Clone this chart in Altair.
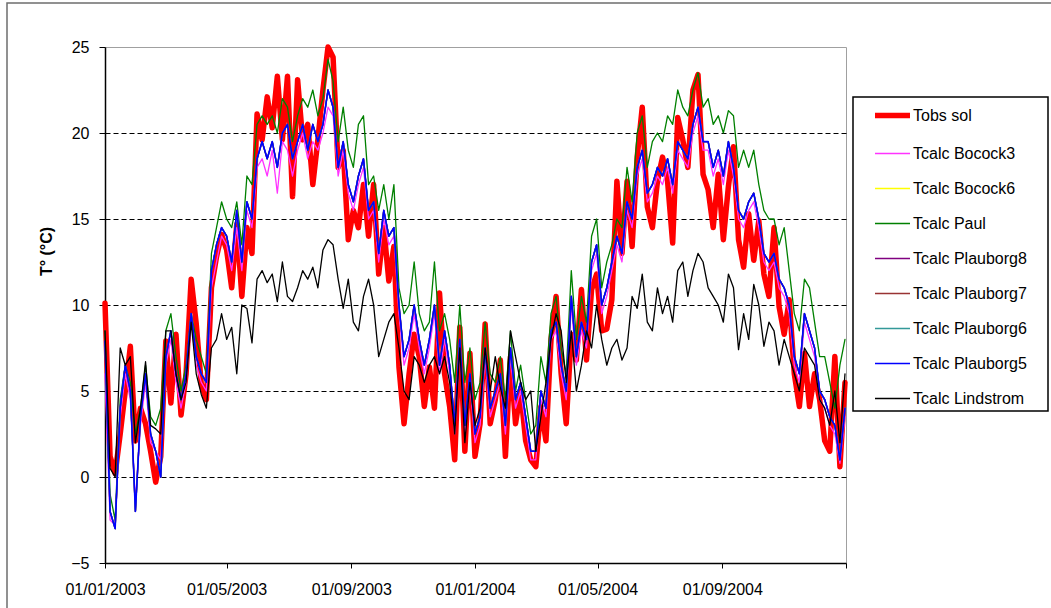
import altair as alt
import pandas as pd

series_names = ["Tobs sol", "Tcalc Bocock3", "Tcalc Bocock6", "Tcalc Paul",
                "Tcalc Plauborg8", "Tcalc Plauborg7", "Tcalc Plauborg6",
                "Tcalc Plauborg5", "Tcalc Lindstrom"]
series_colors = ["#ff0000", "#ff33ff", "#ffff00", "#008000",
                 "#800080", "#993333", "#339999", "#0000ff", "#000000"]
series_widths = [5.5, 1.3, 1.3, 1.3, 1.3, 1.3, 1.3, 1.6, 1.3]

# 5-day samples from 01/01/2003 to 31/12/2004
tobs_sol = [
    10.1, 1.2, 0.2, 2.5, 5.0, 7.6, 2.1, 4.0, 3.1, 1.5,
    -0.3, 1.2, 7.9, 4.3, 8.3, 3.6, 6.0, 11.5, 8.9, 5.4,
    4.5, 11.0, 12.8, 14.1, 13.2, 11.0, 14.7, 10.5, 14.5, 13.0,
    21.1, 19.6, 22.1, 20.3, 23.3, 19.6, 23.3, 16.3, 23.1, 19.6,
    20.5, 17.0, 19.6, 22.5, 25.0, 24.4, 18.0, 19.0, 13.8, 15.5,
    14.5, 17.0, 14.0, 17.0, 11.8, 14.5, 11.4, 13.4, 6.4, 3.1,
    6.0, 8.3, 7.0, 4.1, 6.4, 4.0, 10.7, 6.0, 4.1, 1.0,
    8.7, 1.5, 7.2, 1.2, 3.1, 8.9, 3.1, 4.5, 6.8, 1.2,
    7.0, 3.1, 5.0, 2.1, 1.0, 0.6, 4.1, 2.1, 8.0, 10.5,
    6.0, 3.1, 8.3, 6.8, 10.9, 6.8, 10.9, 11.8, 8.5, 8.6,
    10.3, 17.2, 13.0, 17.2, 13.4, 18.6, 21.5, 15.7, 14.5, 17.2,
    18.6, 17.2, 13.6, 20.9, 19.6, 18.0, 22.5, 23.4, 17.6, 16.7,
    14.5, 17.6, 13.8, 16.9, 19.2, 13.8, 12.2, 15.3, 12.6, 14.9,
    11.8, 10.5, 14.5, 9.9, 8.3, 10.3, 6.0, 4.1, 7.2, 4.1,
    6.0, 4.5, 2.1, 1.5, 7.0, 0.6, 5.5,
]

tcalc_bocock3 = [
    6.0, -2.5, -2.8, 3.5, 6.0, 4.5, -1.5, 3.0, 5.5, 2.0,
    1.5, 1.0, 6.5, 8.0, 5.5, 4.0, 5.5, 9.0, 6.5, 5.5,
    5.0, 11.0, 12.5, 14.0, 13.5, 12.0, 14.5, 12.0, 15.5, 14.5,
    18.0, 18.5, 17.5, 19.0, 16.5, 19.5, 19.0, 17.5, 19.0, 20.0,
    18.5, 19.5, 19.0, 20.0, 21.5, 21.0, 17.5, 19.0, 16.5, 15.5,
    17.0, 18.0, 15.0, 15.5, 12.5, 15.0, 13.5, 14.0, 9.5, 6.5,
    7.5, 9.5, 7.5, 6.0, 7.5, 9.5, 6.0, 8.0, 6.0, 2.5,
    7.5, 2.5, 5.5, 2.0, 3.0, 7.0, 3.5, 4.5, 5.5, 2.5,
    7.0, 4.0, 5.0, 3.0, 1.0, 1.0, 4.5, 3.5, 8.0, 8.5,
    6.0, 4.5, 10.0, 6.5, 8.5, 7.5, 12.0, 13.0, 9.5, 10.5,
    12.0, 13.5, 12.5, 15.5, 14.5, 17.5, 18.5, 16.0, 16.5, 17.5,
    17.0, 18.0, 16.5, 19.0, 18.5, 18.0, 20.0, 21.0, 19.0, 19.0,
    17.5, 18.5, 17.0, 19.0, 17.5, 15.0, 14.5, 15.5, 16.0, 14.5,
    12.5, 12.0, 12.5, 11.0, 10.5, 9.5, 6.5, 5.5, 9.0, 8.0,
    7.0, 4.5, 4.0, 3.0, 2.5, 0.8, 3.5,
]

tcalc_paul = [
    8.5, -1.0, -2.5, 4.5, 6.5, 5.5, 2.5, 4.0, 6.5, 3.5,
    3.0, 4.0, 8.5, 9.5, 7.0, 5.0, 6.5, 9.5, 8.0, 7.0,
    6.0, 13.0, 14.5, 16.0, 15.0, 14.5, 16.0, 13.5, 17.5, 17.0,
    20.5, 21.0, 20.5, 21.0, 20.0, 22.0, 21.5, 19.5, 21.0, 22.0,
    21.5, 22.5, 21.0, 22.0, 24.3, 23.0, 19.5, 21.5, 19.0, 18.0,
    20.5, 21.0, 17.0, 17.5, 15.5, 17.0, 15.0, 17.0, 11.0, 9.5,
    10.0, 12.5, 9.5, 8.5, 9.0, 12.5, 8.5, 9.5, 8.0, 5.5,
    10.0, 5.5, 7.5, 4.5, 5.5, 9.0, 6.0, 5.5, 7.0, 4.5,
    8.5, 5.0, 6.5, 4.5, 2.5, 3.0, 7.0, 5.5, 9.5, 10.5,
    7.5, 6.0, 12.0, 8.0, 10.5, 9.0, 14.0, 15.0, 11.0, 12.5,
    13.5, 15.0, 14.5, 18.0, 16.0, 20.0, 21.0, 18.0, 19.5, 20.0,
    19.5, 21.0, 20.5, 22.5, 21.5, 21.0, 22.5, 23.5, 21.5, 22.0,
    20.5, 21.0, 20.0, 21.3, 21.0, 18.0, 19.0, 18.0, 19.0, 17.0,
    15.5, 15.0, 15.0, 13.5, 14.5, 12.0, 9.5, 8.5, 11.5, 11.0,
    9.0, 7.0, 7.0, 5.5, 4.0, 6.5, 8.0,
]

tcalc_plauborg5 = [
    7.9, -2.0, -3.0, 4.0, 6.5, 5.0, -2.0, 3.5, 6.0, 2.5,
    1.5, 0.0, 7.0, 8.5, 6.0, 4.5, 6.0, 9.5, 7.0, 6.0,
    5.5, 12.0, 13.5, 14.5, 14.0, 12.5, 15.5, 12.5, 16.0, 15.0,
    18.5, 19.5, 18.5, 19.5, 18.0, 20.0, 20.5, 18.5, 19.5, 20.5,
    19.0, 20.5, 19.5, 20.5, 22.5, 21.5, 18.0, 19.5, 17.0, 16.0,
    17.5, 18.5, 15.5, 16.0, 13.0, 15.5, 14.0, 14.5, 10.0, 7.0,
    8.0, 10.0, 8.0, 6.5, 8.0, 10.0, 6.5, 8.5, 6.5, 3.0,
    8.0, 3.0, 6.0, 2.5, 3.5, 7.5, 4.0, 5.0, 6.0, 3.0,
    7.5, 4.5, 5.5, 3.5, 1.5, 1.5, 5.0, 4.0, 8.5, 9.0,
    6.5, 5.0, 10.5, 7.0, 9.0, 8.0, 12.5, 13.5, 10.0, 11.0,
    12.5, 14.0, 13.0, 16.0, 15.0, 18.0, 19.0, 16.5, 17.0, 18.0,
    17.5, 18.5, 17.0, 19.5, 19.0, 18.5, 20.5, 21.5, 19.5, 19.5,
    18.0, 19.0, 17.5, 19.5, 18.0, 15.5, 15.0, 16.0, 16.5, 15.0,
    13.0, 12.5, 13.0, 11.5, 11.0, 10.0, 7.0, 6.0, 9.5, 8.5,
    7.5, 5.0, 4.5, 3.5, 3.0, 1.0, 4.0,
]

tcalc_lindstrom = [
    8.5, 0.5, 0.0, 7.5, 6.5, 7.0, 2.0, 4.0, 6.7, 3.0,
    2.8, 2.5, 8.5, 8.5, 6.0, 4.5, 5.5, 9.0, 6.0, 4.8,
    4.0, 7.5, 8.0, 9.5, 8.0, 8.7, 6.0, 10.0, 9.8, 7.8,
    11.5, 12.0, 11.3, 11.8, 10.2, 12.5, 10.5, 10.2, 11.0, 12.0,
    11.5, 12.2, 11.0, 13.2, 13.8, 13.5, 11.5, 9.8, 11.5, 9.0,
    8.5, 10.5, 11.5, 10.0, 7.0, 8.0, 9.0, 9.5, 7.5, 5.0,
    4.5, 7.0, 6.5, 5.5, 6.5, 7.0, 6.0, 7.0, 5.5, 2.5,
    7.5, 2.0, 5.5, 3.0, 4.0, 7.5, 5.0, 7.0, 5.2, 4.0,
    8.5, 7.0, 5.5, 4.5, 5.0, 1.5, 3.5, 5.5, 8.0, 9.5,
    8.5, 5.5, 8.5, 5.0, 6.5, 8.5, 7.5, 10.0, 8.0, 6.5,
    7.5, 8.0, 6.8, 7.5, 10.5, 9.8, 11.8, 9.0, 8.5, 11.0,
    9.5, 10.5, 9.0, 12.0, 12.5, 10.5, 12.0, 13.0, 12.5, 11.0,
    10.5, 10.0, 9.0, 11.8, 11.0, 7.4, 9.5, 8.0, 11.2, 10.0,
    7.6, 9.0, 8.5, 6.5, 8.0, 7.0, 6.0, 5.0, 7.5, 7.0,
    6.5, 4.5, 4.0, 3.0, 5.0, 2.0, 6.0,
]

# Bocock6 and Plauborg8/7/6 are indistinguishable from Plauborg5 in the picture
tcalc_bocock6 = tcalc_plauborg5
tcalc_plauborg8 = tcalc_plauborg5
tcalc_plauborg7 = tcalc_plauborg5
tcalc_plauborg6 = tcalc_plauborg5

series_values = [tobs_sol, tcalc_bocock3, tcalc_bocock6, tcalc_paul,
                 tcalc_plauborg8, tcalc_plauborg7, tcalc_plauborg6,
                 tcalc_plauborg5, tcalc_lindstrom]

y_ticks = [-5, 0, 5, 10, 15, 20, 25]
x_tick_dates = [(2003, 1), (2003, 5), (2003, 9), (2004, 1), (2004, 5), (2004, 9), (2005, 1)]

rows = []
for name, vals in zip(series_names, series_values):
    dates = pd.date_range("2003-01-01", periods=len(vals), freq="5D")
    for d, v in zip(dates, vals):
        rows.append({"date": d.strftime("%Y-%m-%dT00:00:00"), "series": name, "T": v})
df = pd.DataFrame(rows)

FONT = "Liberation Sans"

x_scale = alt.Scale(domain=[alt.DateTime(year=2003, month=1, date=1),
                            alt.DateTime(year=2005, month=1, date=1)])
y_scale = alt.Scale(domain=[-5, 25], nice=False, zero=False)

x_enc = alt.X("date:T", scale=x_scale,
              axis=alt.Axis(values=[alt.DateTime(year=y, month=m, date=1) for y, m in x_tick_dates],
                            format="%d/%m/%Y",
                            labelExpr="year(datum.value) >= 2005 ? '' : datum.label",
                            title=None, grid=False, tickSize=5, labelPadding=13,
                            labelFlush=False, labelOverlap=False))
y_enc = alt.Y("T:Q", scale=y_scale,
              axis=alt.Axis(values=y_ticks, title="T° (°C)", grid=True,
                            gridColor="#000000", gridDash=[5, 3], gridWidth=1,
                            gridOpacity={"condition": {"test": "datum.value >= 25 || datum.value <= -5",
                                                       "value": 0},
                                         "value": 1},
                            tickSize=6,
                            labelPadding=10, titleX=-59, titleY=204, titleAngle=-90,
                            titleAlign="center", titleBaseline="middle",
                            titleFont=FONT, titleFontSize=16, titleFontWeight="bold"))

legend = alt.Legend(title=None, orient="none", legendX=748, legendY=48)
color_enc = alt.Color("series:N", scale=alt.Scale(domain=series_names, range=series_colors),
                      legend=legend)
width_enc = alt.StrokeWidth("series:N",
                            scale=alt.Scale(type="ordinal", domain=series_names, range=series_widths),
                            legend=legend)

# decorative frames (chart area border and legend box)
border = alt.Chart(alt.Data(values=[{"a": 1}])).mark_rect(
    fillOpacity=0, stroke="#6e6e6e", strokeWidth=1.5
).encode(x=alt.value(-98), x2=alt.value(1000), y=alt.value(-44), y2=alt.value(620))

legend_box = alt.Chart(alt.Data(values=[{"a": 1}])).mark_rect(
    fill="#ffffff", stroke="#000000", strokeWidth=1.5
).encode(x=alt.value(748), x2=alt.value(943), y=alt.value(50), y2=alt.value(364))

line_layers = []
for name in series_names:
    line_layers.append(
        alt.Chart(df).transform_filter(alt.datum.series == name).mark_line(
            strokeJoin="round", strokeCap="round"
        ).encode(x=x_enc, y=y_enc, color=color_enc, strokeWidth=width_enc)
    )

chart = alt.layer(border, legend_box, *line_layers).properties(
    width=741, height=516,
    padding={"left": 105, "top": 47, "right": 205, "bottom": 45},
    autosize=alt.AutoSizeParams(type="none"),
    background="white",
).configure_view(
    stroke="#a0a0a0", strokeWidth=1
).configure_axis(
    labelFont=FONT, labelFontSize=16, labelColor="#000000",
    tickColor="#000000", domainColor="#000000", domainWidth=1.5,
    titleColor="#000000",
).configure_legend(
    padding=0,
    symbolType="stroke", symbolSize=1225, symbolOffset=19, rowPadding=8,
    labelFont=FONT, labelFontSize=16, labelColor="#000000", labelOffset=0,
    labelLimit=300,
)

chart.save("out.html", embed_options={"renderer": "svg", "actions": False})
